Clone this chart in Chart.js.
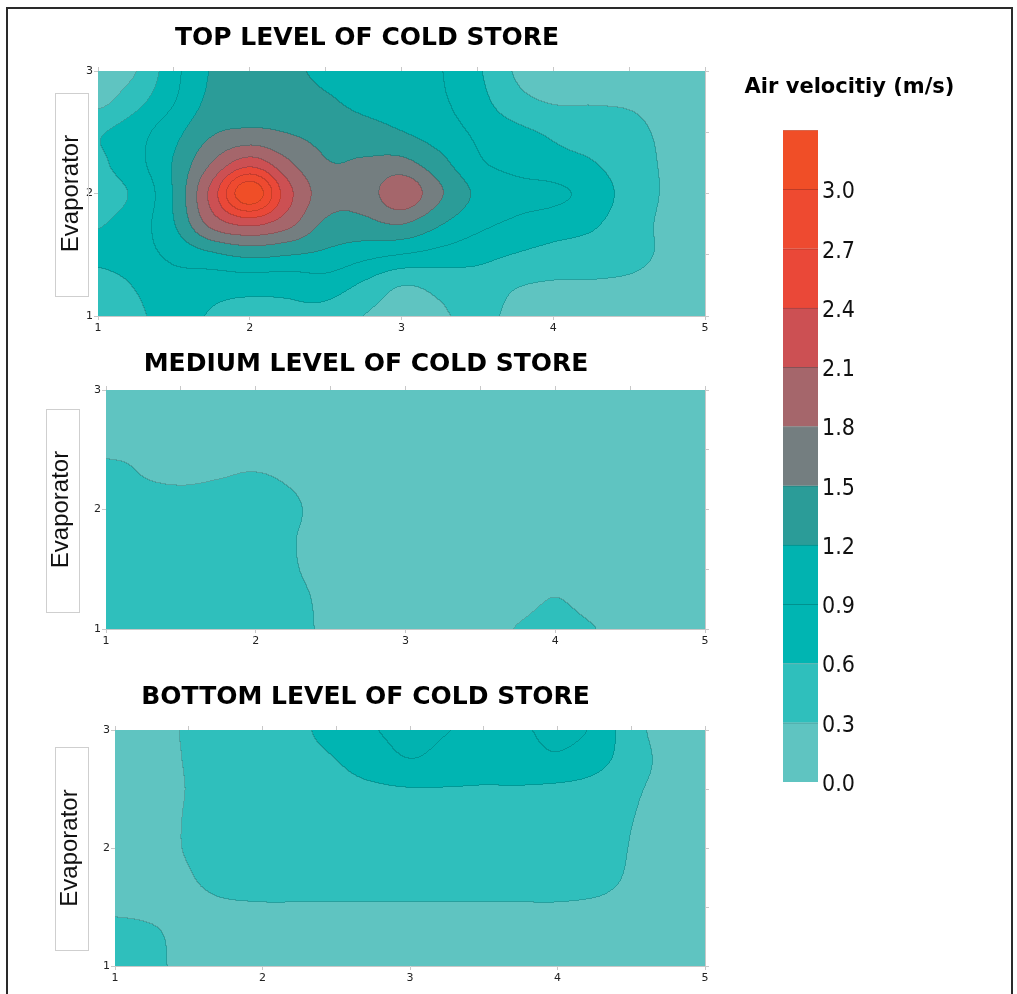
<!DOCTYPE html>
<html>
<head>
<meta charset="utf-8">
<script src="https://cdn.jsdelivr.net/npm/chart.js@4.4.1/dist/chart.umd.min.js"></script>
<style>
  html, body { margin: 0; padding: 0; background: #fff; }
  body { width: 1017px; height: 994px; position: relative; overflow: hidden; }
  #frame { position: absolute; left: 6px; top: 7px; width: 1003px; height: 1010px; border: 2px solid #2a2a2a; }
  canvas { position: absolute; }
</style>
</head>
<body>
<div id="frame"></div>
<canvas id="topChart" width="734" height="340" style="left:0;top:0"></canvas>
<canvas id="mediumChart" width="732" height="323" style="left:0;top:330px"></canvas>
<canvas id="bottomChart" width="731" height="334" style="left:0;top:660px"></canvas>
<canvas id="scaleChart" width="299" height="740" style="left:700px;top:60px"></canvas>
<script>
// grid of the measured field, x along the store, y across it (rows from y=3 down to y=1)
const xValues = [1, 1.25, 1.5, 1.75, 2, 2.25, 2.5, 2.75, 3, 3.25, 3.5, 3.75, 4, 4.25, 4.5, 4.75, 5];
const yValues = [3, 2.75, 2.5, 2.25, 2, 1.75, 1.5, 1.25, 1];

const topLevel = [
  [0.15,0.29,0.80,1.22,1.32,1.28,1.12,1.08,1.02,0.92,0.65,0.28,0.20,0.15,0.12,0.10,0.10],
  [0.22,0.50,0.88,1.28,1.38,1.38,1.25,1.12,1.06,0.95,0.72,0.40,0.28,0.28,0.27,0.22,0.15],
  [0.57,0.78,1.10,1.46,1.55,1.49,1.40,1.32,1.21,1.05,0.85,0.68,0.55,0.45,0.36,0.26,0.20],
  [0.55,0.80,1.22,1.80,2.25,1.85,1.52,1.53,1.58,1.30,0.95,0.80,0.70,0.62,0.42,0.27,0.20],
  [0.50,0.66,1.22,2.20,3.25,2.22,1.65,1.62,2.02,1.55,1.15,1.00,0.96,0.80,0.48,0.27,0.20],
  [0.58,0.75,1.18,1.90,2.17,1.90,1.45,1.42,1.51,1.23,0.98,0.85,0.75,0.65,0.43,0.25,0.20],
  [0.68,0.78,0.97,1.15,1.28,1.22,1.14,1.00,0.90,0.80,0.70,0.59,0.50,0.45,0.38,0.26,0.20],
  [0.45,0.62,0.78,0.72,0.72,0.70,0.76,0.55,0.31,0.38,0.45,0.32,0.27,0.27,0.25,0.20,0.15],
  [0.35,0.55,0.68,0.58,0.50,0.55,0.50,0.30,0.20,0.27,0.35,0.25,0.15,0.12,0.10,0.10,0.10]
];

const mediumLevel = [
  [0.15,0.15,0.15,0.15,0.15,0.15,0.15,0.15,0.15,0.15,0.15,0.15,0.15,0.15,0.15,0.15,0.15],
  [0.18,0.18,0.18,0.18,0.18,0.18,0.18,0.18,0.18,0.18,0.18,0.18,0.18,0.18,0.18,0.18,0.18],
  [0.27,0.27,0.25,0.26,0.26,0.25,0.20,0.18,0.18,0.18,0.18,0.18,0.18,0.18,0.18,0.18,0.18],
  [0.36,0.305,0.28,0.30,0.315,0.28,0.20,0.18,0.18,0.18,0.18,0.18,0.18,0.18,0.18,0.18,0.18],
  [0.40,0.40,0.40,0.40,0.40,0.33,0.21,0.19,0.19,0.19,0.19,0.19,0.19,0.19,0.19,0.19,0.19],
  [0.41,0.41,0.41,0.41,0.41,0.31,0.21,0.19,0.19,0.19,0.19,0.19,0.19,0.19,0.19,0.19,0.19],
  [0.42,0.42,0.42,0.42,0.42,0.32,0.21,0.19,0.19,0.19,0.19,0.19,0.20,0.19,0.19,0.19,0.19],
  [0.42,0.42,0.42,0.42,0.42,0.36,0.24,0.20,0.20,0.20,0.20,0.22,0.305,0.22,0.20,0.20,0.20],
  [0.42,0.42,0.42,0.42,0.42,0.37,0.25,0.20,0.20,0.20,0.20,0.31,0.38,0.31,0.20,0.20,0.20]
];

const bottomLevel = [
  [0.20,0.22,0.33,0.45,0.50,0.56,0.70,0.88,0.97,0.91,0.82,0.87,0.95,0.86,0.42,0.20,0.18],
  [0.20,0.22,0.32,0.45,0.50,0.53,0.60,0.75,0.895,0.80,0.75,0.78,0.86,0.72,0.45,0.22,0.18],
  [0.20,0.22,0.31,0.45,0.46,0.48,0.52,0.56,0.59,0.59,0.58,0.58,0.55,0.50,0.35,0.22,0.18],
  [0.20,0.22,0.32,0.45,0.45,0.45,0.45,0.45,0.45,0.45,0.45,0.45,0.45,0.44,0.31,0.21,0.18],
  [0.20,0.22,0.32,0.45,0.45,0.45,0.45,0.45,0.45,0.45,0.45,0.45,0.45,0.44,0.29,0.21,0.18],
  [0.20,0.22,0.28,0.42,0.42,0.42,0.42,0.42,0.42,0.42,0.42,0.42,0.42,0.40,0.27,0.21,0.18],
  [0.25,0.24,0.22,0.26,0.28,0.28,0.28,0.28,0.28,0.28,0.28,0.28,0.28,0.26,0.22,0.20,0.18],
  [0.40,0.34,0.22,0.20,0.20,0.20,0.20,0.20,0.20,0.20,0.20,0.20,0.20,0.20,0.20,0.20,0.18],
  [0.42,0.36,0.22,0.20,0.20,0.20,0.20,0.20,0.20,0.20,0.20,0.20,0.20,0.20,0.20,0.20,0.18]
];

const contourLevels = [0.0, 0.3, 0.6, 0.9, 1.2, 1.5, 1.8, 2.1, 2.4, 2.7, 3.0, 3.3];
const bandColors = ['#5fc4c1','#2fbfbc','#00b5b2','#01b3b0','#2b9c98','#747e80',
                    '#a5666b','#cc5053','#ea4838','#ee4a30','#f04e27'];
const colorbarTicks = [0.0, 0.3, 0.6, 0.9, 1.2, 1.5, 1.8, 2.1, 2.4, 2.7, 3.0];

const panelTitles = ['TOP LEVEL OF COLD STORE', 'MEDIUM LEVEL OF COLD STORE', 'BOTTOM LEVEL OF COLD STORE'];
const wallLabel = 'Evaporator';
const colorbarTitle = 'Air velocitiy (m/s)';

const hexToRgb = h => { const n = parseInt(h.slice(1), 16); return [n >> 16 & 255, n >> 8 & 255, n & 255]; };
const bandRgb = bandColors.map(hexToRgb);
const shade = (h, f) => 'rgb(' + hexToRgb(h).map(c => Math.round(c * f)).join(',') + ')';

function bandOf(v) {
  let b = 0;
  for (let k = 1; k < contourLevels.length - 1; k++) if (v >= contourLevels[k]) b = k;
  return b;
}

// catmull-rom between grid nodes
function cr(p0, p1, p2, p3, t) {
  return 0.5 * (2 * p1 + (p2 - p0) * t + (2 * p0 - 5 * p1 + 4 * p2 - p3) * t * t + (3 * p1 - p0 - 3 * p2 + p3) * t * t * t);
}
function sample(grid, xv, yv) {
  const nc = xValues.length, nr = yValues.length;
  const fx = (xv - xValues[0]) / (xValues[nc - 1] - xValues[0]) * (nc - 1);
  const fy = (yValues[0] - yv) / (yValues[0] - yValues[nr - 1]) * (nr - 1);
  const i = Math.min(Math.max(Math.floor(fx), 0), nc - 2);
  const j = Math.min(Math.max(Math.floor(fy), 0), nr - 2);
  const tx = fx - i, ty = fy - j;
  const row = r => {
    const rr = grid[Math.min(Math.max(r, 0), nr - 1)];
    const c = k => rr[Math.min(Math.max(k, 0), nc - 1)];
    return cr(c(i - 1), c(i), c(i + 1), c(i + 2), tx);
  };
  return cr(row(j - 1), row(j), row(j + 1), row(j + 2), ty);
}

// filled contour bands, one pixel at a time through the chart scales
function contourFill(grid) {
  return {
    id: 'contourFill',
    beforeDatasetsDraw(chart) {
      const a = chart.chartArea, xs = chart.scales.x, ys = chart.scales.y;
      const left = Math.round(a.left), top = Math.round(a.top);
      const w = Math.round(a.right) - left, h = Math.round(a.bottom) - top;
      const xv = [], yv = [];
      for (let i = 0; i < w; i++) xv.push(xs.getValueForPixel(left + i + 0.5));
      for (let j = 0; j < h; j++) yv.push(ys.getValueForPixel(top + j + 0.5));
      const bands = new Uint8Array(w * h);
      for (let j = 0; j < h; j++)
        for (let i = 0; i < w; i++) bands[j * w + i] = bandOf(sample(grid, xv[i], yv[j]));
      const img = chart.ctx.createImageData(w, h);
      for (let j = 0; j < h; j++) {
        for (let i = 0; i < w; i++) {
          const k = j * w + i, b = bands[k];
          const edge = (i < w - 1 && bands[k + 1] !== b) || (j < h - 1 && bands[k + w] !== b);
          const f = edge ? 0.84 : 1, c = bandRgb[b];
          img.data[4 * k] = c[0] * f;
          img.data[4 * k + 1] = c[1] * f;
          img.data[4 * k + 2] = c[2] * f;
          img.data[4 * k + 3] = 255;
        }
      }
      chart.ctx.putImageData(img, left, top);
    }
  };
}

function labelBox(d) {
  return {
    id: 'labelBox',
    afterDraw(chart) {
      const a = chart.chartArea, ctx = chart.ctx;
      const cy = (a.top + a.bottom) / 2;
      ctx.save();
      ctx.strokeStyle = '#cfcfcf';
      ctx.lineWidth = 1;
      ctx.strokeRect(d.boxLeft + 0.5, Math.round(cy - 101) + 0.5, 33, 203);
      ctx.restore();
    }
  };
}

const tickFont = { family: 'DejaVu Sans', size: 11 };
const lineGrey = '#c8c8c8';

function makePanel(id, grid, title, d) {
  const points = [];
  yValues.forEach((yv, r) => xValues.forEach((xv, c) => points.push({ x: xv, y: yv, v: grid[r][c] })));
  return new Chart(document.getElementById(id), {
    type: 'scatter',
    data: { datasets: [{ data: points, xAxisID: 'x', yAxisID: 'y', pointRadius: 0, pointHoverRadius: 0 }] },
    options: {
      responsive: false,
      animation: false,
      devicePixelRatio: 1,
      layout: { padding: 0 },
      plugins: {
        legend: { display: false },
        tooltip: { enabled: false },
        title: {
          display: true, text: title, color: '#000',
          font: { family: 'DejaVu Sans', size: 25, weight: 'bold', lineHeight: 1.2 },
          padding: d.titlePad
        }
      },
      scales: {
        x: {
          type: 'linear', position: 'bottom', min: 1, max: 5,
          ticks: { stepSize: 1, padding: 2, color: '#222', font: tickFont },
          grid: { drawOnChartArea: false, tickLength: 4, color: lineGrey },
          border: { color: lineGrey },
          afterFit: s => { s.height = d.xh; }
        },
        x2: {
          type: 'linear', position: 'top', min: 1, max: 5,
          ticks: { stepSize: 0.5, display: false },
          grid: { drawOnChartArea: false, tickLength: 4, color: lineGrey },
          border: { color: lineGrey },
          afterFit: s => { s.height = d.x2h; }
        },
        y: {
          type: 'linear', position: 'left', min: 1, max: 3,
          ticks: { stepSize: 1, padding: 1, color: '#222', font: tickFont },
          grid: { drawOnChartArea: false, tickLength: 4, color: lineGrey },
          border: { color: lineGrey },
          title: {
            display: true, text: wallLabel, color: '#111',
            font: { family: 'Liberation Sans', size: 24, lineHeight: 1.2 },
            padding: { top: d.labelPad, bottom: 0 }
          },
          afterFit: s => { s.width = d.yw; }
        },
        y2: {
          type: 'linear', position: 'right', min: 1, max: 3,
          ticks: { stepSize: 0.5, display: false },
          grid: { drawOnChartArea: false, tickLength: 4, color: lineGrey },
          border: { color: lineGrey },
          afterFit: s => { s.width = d.y2w; }
        }
      }
    },
    plugins: [contourFill(grid), labelBox(d)]
  });
}

makePanel('topChart', topLevel, panelTitles[0],
  { xh: 24, x2h: 6, yw: 98, y2w: 29, titlePad: { top: 23, bottom: 12 }, labelPad: 57, boxLeft: 55 });
makePanel('mediumChart', mediumLevel, panelTitles[1],
  { xh: 24, x2h: 6, yw: 106, y2w: 27, titlePad: { top: 19, bottom: 5 }, labelPad: 47, boxLeft: 46 });
makePanel('bottomChart', bottomLevel, panelTitles[2],
  { xh: 28, x2h: 6, yw: 115, y2w: 26, titlePad: { top: 22, bottom: 12 }, labelPad: 56, boxLeft: 55 });

// colour scale: one stacked segment per contour band
new Chart(document.getElementById('scaleChart'), {
  type: 'bar',
  data: {
    labels: [''],
    datasets: bandColors.map((c, k) => ({
      data: [contourLevels[k + 1] - contourLevels[k]],
      xAxisID: 'x',
      yAxisID: 'y',
      backgroundColor: c,
      borderColor: shade(c, 0.8),
      borderWidth: { top: 1, right: 0, bottom: 0, left: 0 },
      borderSkipped: false,
      barPercentage: 1,
      categoryPercentage: 1
    }))
  },
  options: {
    responsive: false,
    animation: false,
    devicePixelRatio: 1,
    layout: { padding: { bottom: 18 } },
    plugins: {
      legend: { display: false },
      tooltip: { enabled: false },
      title: {
        display: true, text: colorbarTitle, color: '#000',
        font: { family: 'DejaVu Sans', size: 21, weight: 'bold', lineHeight: 1.2 },
        padding: { top: 15, bottom: 30 }
      }
    },
    scales: {
      x: { stacked: true, display: false },
      y: {
        stacked: true, position: 'right', min: 0, max: 3.3,
        afterBuildTicks: s => { s.ticks = colorbarTicks.map(v => ({ value: v })); },
        ticks: {
          callback: v => Number(v).toFixed(1), padding: 4, labelOffset: 3, color: '#111',
          font: { family: "'Liberation Sans Narrow', 'DejaVu Sans Condensed', sans-serif", size: 23 }
        },
        grid: { display: false, drawTicks: false },
        border: { display: false },
        afterFit: s => { s.width = 181; }
      },
      yl: {
        type: 'linear', position: 'left', display: true,
        ticks: { display: false }, grid: { display: false, drawTicks: false }, border: { display: false },
        afterFit: s => { s.width = 83; }
      }
    }
  }
});
</script>
</body>
</html>
